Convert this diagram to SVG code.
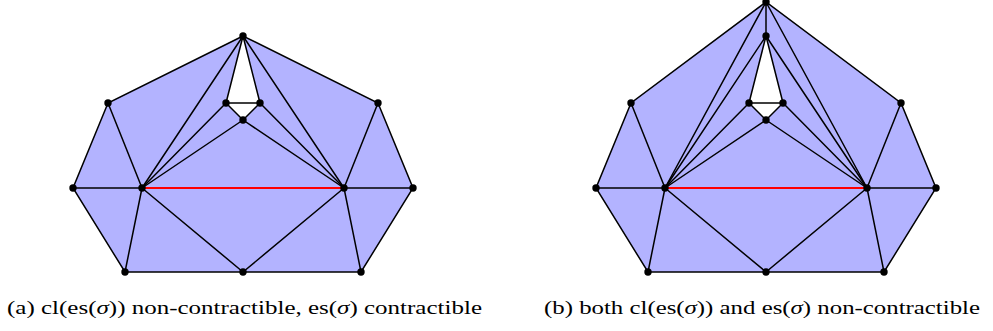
<svg xmlns="http://www.w3.org/2000/svg" width="993" height="331" viewBox="0 0 993 331">
<style>
.fill{fill:#b3b3ff;fill-rule:evenodd;stroke:none}
.e{stroke:#000;stroke-width:1.5;fill:none;stroke-linecap:round}
.r{stroke:#ff0000;stroke-width:1.8}
.dot{fill:#000}
.cap{font-family:"Liberation Serif","DejaVu Serif",serif;font-size:18.5px;fill:#000}
</style>
<rect width="993" height="331" fill="#fff"/>
<!-- shaded regions -->
<path id="a-fill" class="fill" d="M243,36 L378,103 L413,188 L361,272 L243,272 L125,272 L73,188 L108,103 Z M243,36 L226,103 L243,120 L260,103 Z"/>
<path id="b-fill" class="fill" d="M766,2 L901,103 L936,188 L884,272 L766,272 L648,272 L596,188 L631,103 Z M766,36 L749,103 L766,120 L783,103 Z"/>
<g id="connectors">
<g id="a-edges" class="e">
<path d="M243,36 L108,103 L73,188 L125,272 L361,272 L413,188 L378,103 Z"/>
<line x1="108" y1="103" x2="142" y2="188"/>
<line x1="73" y1="188" x2="142" y2="188"/>
<line x1="142" y1="188" x2="125" y2="272"/>
<line x1="142" y1="188" x2="243" y2="272"/>
<line x1="344" y1="188" x2="243" y2="272"/>
<line x1="344" y1="188" x2="361" y2="272"/>
<line x1="344" y1="188" x2="413" y2="188"/>
<line x1="344" y1="188" x2="378" y2="103"/>
<line x1="142" y1="188" x2="243" y2="36"/>
<line x1="142" y1="188" x2="226" y2="103"/>
<line x1="142" y1="188" x2="243" y2="120"/>
<line x1="344" y1="188" x2="243" y2="36"/>
<line x1="344" y1="188" x2="260" y2="103"/>
<line x1="344" y1="188" x2="243" y2="120"/>
<line x1="243" y1="36" x2="226" y2="103"/>
<line x1="243" y1="36" x2="260" y2="103"/>
<line x1="226" y1="103" x2="260" y2="103"/>
<line x1="226" y1="103" x2="243" y2="120"/>
<line x1="260" y1="103" x2="243" y2="120"/>
</g>
<line id="a-sigma" class="e r" x1="142" y1="188" x2="344" y2="188"/>
<g id="b-edges" class="e">
<path d="M766,2 L631,103 L596,188 L648,272 L884,272 L936,188 L901,103 Z"/>
<line x1="766" y1="2" x2="766" y2="36"/>
<line x1="631" y1="103" x2="665" y2="188"/>
<line x1="596" y1="188" x2="665" y2="188"/>
<line x1="665" y1="188" x2="648" y2="272"/>
<line x1="665" y1="188" x2="766" y2="272"/>
<line x1="867" y1="188" x2="766" y2="272"/>
<line x1="867" y1="188" x2="884" y2="272"/>
<line x1="867" y1="188" x2="936" y2="188"/>
<line x1="867" y1="188" x2="901" y2="103"/>
<line x1="665" y1="188" x2="766" y2="2"/>
<line x1="665" y1="188" x2="766" y2="36"/>
<line x1="665" y1="188" x2="749" y2="103"/>
<line x1="665" y1="188" x2="766" y2="120"/>
<line x1="867" y1="188" x2="766" y2="2"/>
<line x1="867" y1="188" x2="766" y2="36"/>
<line x1="867" y1="188" x2="783" y2="103"/>
<line x1="867" y1="188" x2="766" y2="120"/>
<line x1="766" y1="36" x2="749" y2="103"/>
<line x1="766" y1="36" x2="783" y2="103"/>
<line x1="749" y1="103" x2="783" y2="103"/>
<line x1="749" y1="103" x2="766" y2="120"/>
<line x1="783" y1="103" x2="766" y2="120"/>
</g>
<line id="b-sigma" class="e r" x1="665" y1="188" x2="867" y2="188"/>
</g>
<!-- nodes (a) -->
<g id="a-T"><circle class="dot" cx="243" cy="36" r="3.7"/></g>
<g id="a-UL"><circle class="dot" cx="108" cy="103" r="3.7"/></g>
<g id="a-UR"><circle class="dot" cx="378" cy="103" r="3.7"/></g>
<g id="a-IL"><circle class="dot" cx="226" cy="103" r="3.7"/></g>
<g id="a-IR"><circle class="dot" cx="260" cy="103" r="3.7"/></g>
<g id="a-IB"><circle class="dot" cx="243" cy="120" r="3.7"/></g>
<g id="a-LO"><circle class="dot" cx="73" cy="188" r="3.7"/></g>
<g id="a-A"><circle class="dot" cx="142" cy="188" r="3.7"/></g>
<g id="a-B"><circle class="dot" cx="344" cy="188" r="3.7"/></g>
<g id="a-RO"><circle class="dot" cx="413" cy="188" r="3.7"/></g>
<g id="a-BL"><circle class="dot" cx="125" cy="272" r="3.7"/></g>
<g id="a-BM"><circle class="dot" cx="243" cy="272" r="3.7"/></g>
<g id="a-BR"><circle class="dot" cx="361" cy="272" r="3.7"/></g>
<!-- nodes (b) -->
<g id="b-T"><circle class="dot" cx="766" cy="2" r="3.7"/></g>
<g id="b-T2"><circle class="dot" cx="766" cy="36" r="3.7"/></g>
<g id="b-UL"><circle class="dot" cx="631" cy="103" r="3.7"/></g>
<g id="b-UR"><circle class="dot" cx="901" cy="103" r="3.7"/></g>
<g id="b-IL"><circle class="dot" cx="749" cy="103" r="3.7"/></g>
<g id="b-IR"><circle class="dot" cx="783" cy="103" r="3.7"/></g>
<g id="b-IB"><circle class="dot" cx="766" cy="120" r="3.7"/></g>
<g id="b-LO"><circle class="dot" cx="596" cy="188" r="3.7"/></g>
<g id="b-A"><circle class="dot" cx="665" cy="188" r="3.7"/></g>
<g id="b-B"><circle class="dot" cx="867" cy="188" r="3.7"/></g>
<g id="b-RO"><circle class="dot" cx="936" cy="188" r="3.7"/></g>
<g id="b-BL"><circle class="dot" cx="648" cy="272" r="3.7"/></g>
<g id="b-BM"><circle class="dot" cx="766" cy="272" r="3.7"/></g>
<g id="b-BR"><circle class="dot" cx="884" cy="272" r="3.7"/></g>
<!-- captions -->
<text id="cap-a" class="cap" x="7" y="314" textLength="475" lengthAdjust="spacingAndGlyphs">(a) cl(es(<tspan font-style="italic">σ</tspan>)) non-contractible, es(<tspan font-style="italic">σ</tspan>) contractible</text>
<text id="cap-b" class="cap" x="544" y="314" textLength="436" lengthAdjust="spacingAndGlyphs">(b) both cl(es(<tspan font-style="italic">σ</tspan>)) and es(<tspan font-style="italic">σ</tspan>) non-contractible</text>
</svg>
